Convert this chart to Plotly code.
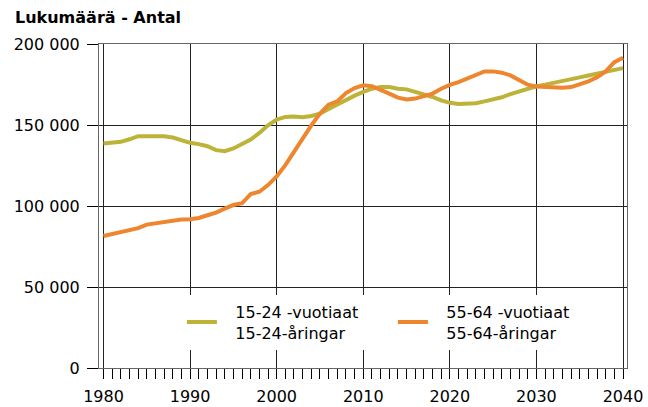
import plotly.graph_objects as go

years = list(range(1980, 2041))

# thousands of persons
age_15_24 = [138.6, 139.0, 139.6, 141.2, 143.1, 143.1, 143.1, 143.1, 142.3, 140.6,
             139.0, 138.2, 136.9, 134.5, 133.8, 135.5, 138.2, 141.0, 145.1, 149.8,
             153.4, 155.0, 155.2, 154.8, 155.6, 157.0, 159.9, 162.6, 165.7, 168.1,
             170.4, 172.4, 173.4, 173.4, 172.4, 172.0, 170.4, 168.9, 167.3, 165.2,
             163.7, 163.0, 163.2, 163.4, 164.6, 165.9, 167.1, 169.1, 170.8, 172.4,
             173.9, 174.9, 175.9, 176.9, 178.2, 179.4, 180.6, 181.8, 183.1, 184.3,
             185.1]
age_55_64 = [81.5, 82.6, 83.6, 84.8, 86.3, 88.5, 89.3, 90.4, 91.4, 91.6,
             91.8, 92.6, 94.3, 95.9, 98.4, 100.6, 101.7, 107.4, 108.8, 112.9,
             118.2, 125.2, 133.4, 141.7, 149.8, 157.0, 162.6, 164.6, 169.7, 172.8,
             174.5, 173.9, 171.8, 169.4, 166.9, 165.7, 166.3, 167.7, 169.4, 172.4,
             174.8, 176.5, 178.6, 180.6, 183.1, 183.1, 182.3, 180.6, 177.5, 174.9,
             173.7, 173.4, 173.0, 173.0, 173.4, 174.9, 176.9, 179.4, 183.1, 188.8,
             191.5]

series_labels = [("15-24 -vuotiaat", "15-24-åringar"), ("55-64 -vuotiaat", "55-64-åringar")]
series_colors = ["#BDB339", "#EE8630"]
title_text = "Lukumäärä - Antal"

y_tickvals = [0, 50000, 100000, 150000, 200000]
y_ticktext = ["0", "50 000", "100 000", "150 000", "200 000"]
x_tickvals = [1980, 1990, 2000, 2010, 2020, 2030, 2040]

FONT = "DejaVu Sans"
PAD = "\u00a0\u00a0\u2009"  # small indent between legend line and its text

fig = go.Figure()
for vals, (l1, l2), col in zip([age_15_24, age_55_64], series_labels, series_colors):
    fig.add_trace(go.Scatter(
        x=years, y=[v * 1000 for v in vals], mode="lines",
        name=PAD + l1 + "<br>" + PAD + l2,
        line=dict(color=col, width=4),
    ))

fig.update_layout(
    width=648, height=407,
    margin=dict(l=99, r=20.5, t=43.5, b=38.5, pad=0, autoexpand=False),
    paper_bgcolor="white", plot_bgcolor="white",
    font=dict(family=FONT, size=16, color="#000"),
    title=dict(text="<b>" + title_text + "</b>", x=15 / 648, xanchor="left",
               y=1 - 17.5 / 407, yanchor="middle", xref="container", yref="container",
               font=dict(family=FONT, size=16, color="#000")),
    showlegend=True,
    legend=dict(orientation="h", x=(182 - 99) / 528.5, xanchor="left",
                y=(368.5 - 295) / 325, yanchor="top",
                bgcolor="white", borderwidth=0, itemwidth=30,
                font=dict(family=FONT, size=16, color="#000"),
                entrywidth=166, tracegroupgap=0),
)

fig.update_xaxes(
    range=[1979.48, 2040.46], tickvals=x_tickvals, automargin=False,
    ticks="outside", ticklen=10, tickwidth=1, tickcolor="#000",
    minor=dict(dtick=1, tick0=1980, ticks="outside", ticklen=10, tickwidth=1,
               tickcolor="#000", showgrid=False),
    showgrid=True, gridcolor="#222", gridwidth=1,
    showline=True, linecolor="#666", linewidth=1, mirror=True,
    zeroline=False, tickfont=dict(size=16, color="#000"),
    ticklabelstandoff=4,
)
fig.update_yaxes(
    range=[0, 200000], tickvals=y_tickvals, ticktext=y_ticktext, automargin=False,
    ticks="outside", ticklen=11, tickwidth=1, tickcolor="#000",
    showgrid=True, gridcolor="#222", gridwidth=1,
    showline=True, linecolor="#666", linewidth=1, mirror=True,
    zeroline=False, tickfont=dict(size=16, color="#000"),
    ticklabelstandoff=4,
)

fig.write_html("out.html", config={"displayModeBar": False},
               post_script="document.body.style.margin='0';document.body.style.overflow='hidden';")
